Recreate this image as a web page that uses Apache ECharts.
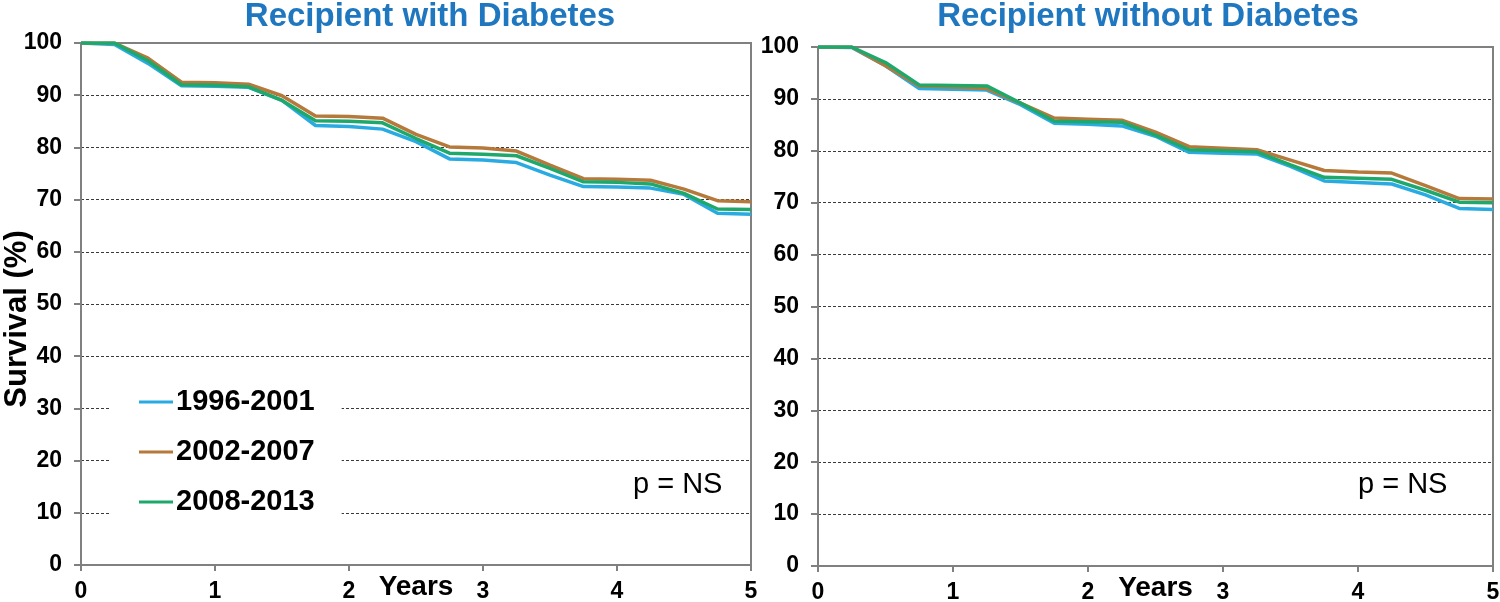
<!DOCTYPE html>
<html>
<head>
<meta charset="utf-8">
<script src="https://cdn.jsdelivr.net/npm/echarts@6/dist/echarts.min.js"></script>
<style>
html,body{margin:0;padding:0;background:#fff;}
#chart{width:1500px;height:602px;}
</style>
</head>
<body>
<div id="chart"></div>
<script>
var years = [0,0.25,0.5,0.75,1,1.25,1.5,1.75,2,2.25,2.5,2.75,3,3.25,3.5,3.75,4,4.25,4.5,4.75,5];
var seriesNames = ['1996-2001','2002-2007','2008-2013'];
var panelTitles = ['Recipient with Diabetes','Recipient without Diabetes'];
var yTicks = [0,10,20,30,40,50,60,70,80,90,100];
var xTicks = [0,1,2,3,4,5];
var pText = 'p = NS';

// Recipient with Diabetes
var withBlue  = [100,99.7,96.1,91.8,91.7,91.5,89.0,84.2,84.0,83.5,81.1,77.8,77.6,77.1,74.7,72.5,72.4,72.2,71.0,67.4,67.2];
var withBrown = [100,100,97.1,92.5,92.4,92.1,89.9,86.0,85.9,85.6,82.5,80.1,79.9,79.3,76.6,74.0,73.9,73.7,72.0,69.8,69.6];
var withGreen = [100,100,96.6,92.0,91.9,91.6,89.0,85.1,85.0,84.7,81.7,78.9,78.7,78.4,76.0,73.4,73.3,73.0,71.2,68.2,68.1];

// Recipient without Diabetes
var withoutBlue  = [100,99.9,96.4,92.0,91.85,91.7,88.9,85.3,85.1,84.8,82.8,79.7,79.55,79.4,77.0,74.2,73.9,73.6,71.5,68.9,68.7];
var withoutBrown = [100,100,96.4,92.5,92.3,92.0,89.2,86.3,86.1,85.9,83.6,80.8,80.5,80.2,78.2,76.2,75.9,75.7,73.3,70.8,70.7];
var withoutGreen = [100,100,97.0,92.7,92.6,92.5,89.2,85.7,85.6,85.5,83.0,80.2,80.0,79.8,77.3,74.9,74.7,74.5,72.4,70.1,70.0];

var colors = ['#29ABE2','#B5793B','#1FA86B'];
var FONT = '"Liberation Sans", Arial, sans-serif';

function pairs(ys){ return years.map(function(x,i){ return [x, ys[i]]; }); }

var splitColors = yTicks.map(function(v){ return (v===0||v===100) ? 'rgba(0,0,0,0)' : '#3a3a3a'; });

function xAxis(idx){
  return {
    type:'value', gridIndex:idx, min:xTicks[0], max:xTicks[xTicks.length-1], interval:1,
    name:'Years', nameLocation:'middle', nameGap:8, nameMoveOverlap:false,
    nameTextStyle:{fontFamily:FONT, fontWeight:'bold', fontSize:28, color:'#000', lineHeight:28},
    axisLine:{show:true, lineStyle:{color:'#808080', width:2}},
    axisTick:{show:true, length:6, lineStyle:{color:'#808080', width:2}},
    axisLabel:{fontFamily:FONT, fontWeight:'bold', fontSize:23, color:'#000', margin:15},
    splitLine:{show:false}
  };
}
function yAxis(idx, withName){
  var a = {
    type:'value', gridIndex:idx, min:0, max:100, interval:10,
    axisLine:{show:true, lineStyle:{color:'#808080', width:2}},
    axisTick:{show:true, length:7, lineStyle:{color:'#808080', width:2}},
    axisLabel:{fontFamily:FONT, fontWeight:'bold', fontSize:23, color:'#000', margin:19},
    splitLine:{show:true, lineStyle:{color:splitColors, type:[3,2], width:1}}
  };
  if(withName){
    a.name = 'Survival (%)';
    a.nameLocation = 'middle';
    a.nameRotate = 90;
    a.nameGap = 48;
    a.nameMoveOverlap = false;
    a.nameTextStyle = {fontFamily:FONT, fontWeight:'bold', fontSize:31, color:'#000', padding:[0,30,0,0]};
  }
  return a;
}
function line(name, idx, ys, color){
  return {
    name:name, type:'line', xAxisIndex:idx, yAxisIndex:idx, data:pairs(ys),
    showSymbol:false, symbol:'none', smooth:false,
    lineStyle:{color:color, width:3.5}, itemStyle:{color:color}, z:3
  };
}

var chart = echarts.init(document.getElementById('chart'), null, {renderer:'canvas'});
chart.setOption({
  backgroundColor:'#fff',
  animation:false,
  title:[
    {text:panelTitles[0], left:425, top:-5, textAlign:'center',
     textStyle:{fontFamily:FONT, fontWeight:'bold', fontSize:33, color:'#1F77C0'}},
    {text:panelTitles[1], left:1143, top:-5, textAlign:'center',
     textStyle:{fontFamily:FONT, fontWeight:'bold', fontSize:33, color:'#1F77C0'}}
  ],
  grid:[
    {left:81, top:43, width:670, height:522, show:true, borderColor:'#808080', borderWidth:2, backgroundColor:'transparent', containLabel:false, outerBoundsMode:'none'},
    {left:818, top:47, width:675, height:519, show:true, borderColor:'#808080', borderWidth:2, backgroundColor:'transparent', containLabel:false, outerBoundsMode:'none'}
  ],
  xAxis:[xAxis(0), xAxis(1)],
  yAxis:[yAxis(0,true), yAxis(1,false)],
  legend:{
    data:seriesNames, orient:'vertical', left:110, top:367,
    padding:[20,27,20,29], itemGap:20, itemWidth:34, itemHeight:3, icon:'rect',
    backgroundColor:'#fff', selectedMode:false, z:5,
    textStyle:{fontFamily:FONT, fontWeight:'bold', fontSize:29, color:'#000', lineHeight:30, padding:[0,0,0,-2]}
  },
  graphic:[
    {type:'text', left:633, top:470, z:10, style:{text:pText, font:'29px "Liberation Sans", Arial, sans-serif', fill:'#000'}},
    {type:'text', left:1358, top:470, z:10, style:{text:pText, font:'29px "Liberation Sans", Arial, sans-serif', fill:'#000'}}
  ],
  series:[
    line(seriesNames[0],0,withBlue,colors[0]),
    line(seriesNames[1],0,withBrown,colors[1]),
    line(seriesNames[2],0,withGreen,colors[2]),
    line(seriesNames[0],1,withoutBlue,colors[0]),
    line(seriesNames[1],1,withoutBrown,colors[1]),
    line(seriesNames[2],1,withoutGreen,colors[2])
  ]
});
</script>
</body>
</html>
